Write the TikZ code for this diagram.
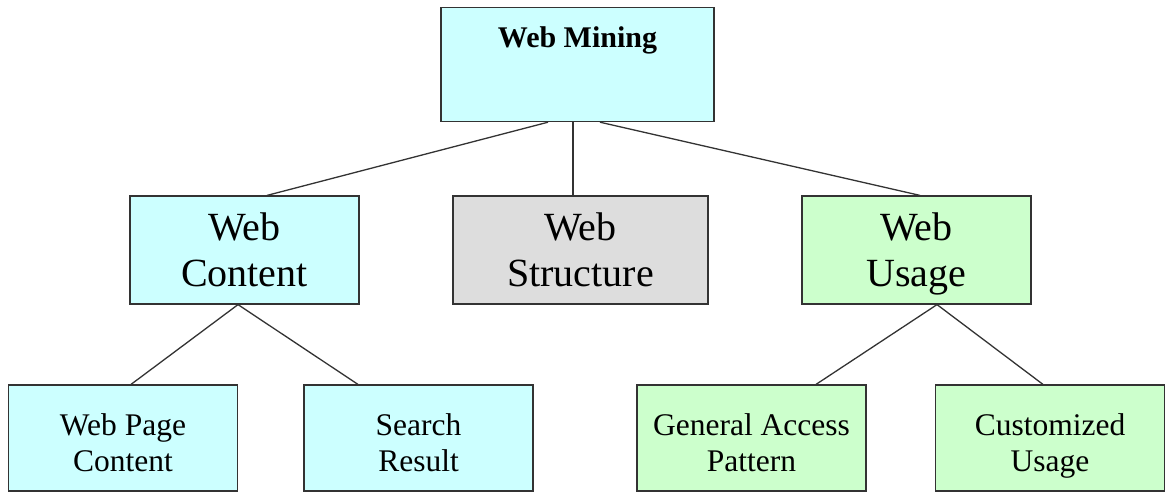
\documentclass[tikz,border=0pt]{standalone}
\usepackage{fontspec}
\setmainfont{Liberation Serif}
\definecolor{cyanfill}{HTML}{CCFFFF}
\definecolor{greyfill}{HTML}{DDDDDD}
\definecolor{greenfill}{HTML}{CCFFCC}
\definecolor{edgegrey}{HTML}{333333}
% fixed line struts so every box sets its lines on the same baselines
\newcommand{\midstrut}{\rule[-10pt]{0pt}{46pt}}
\newcommand{\leafstrut}{\rule[-8pt]{0pt}{46pt}}
\newcommand{\midfont}{\fontsize{40}{46}\selectfont\lineskiplimit-100pt\relax}
\newcommand{\leaffont}{\fontsize{31.5}{36}\selectfont\lineskiplimit-100pt\relax}
\begin{document}
\begin{tikzpicture}[x=1pt,y=-1pt,
  box/.style={draw=edgegrey, line width=1.2pt, rectangle, inner sep=0pt, align=center},
  mid/.style={box, minimum width=229pt, minimum height=108pt, font=\midfont},
  leaf/.style={box, minimum width=229pt, minimum height=106pt, font=\leaffont},
  link/.style={draw=edgegrey, line width=1.3pt}]
\useasboundingbox (0,0) rectangle (1169,493);

% root
\node[box, fill=cyanfill, minimum width=273pt, text height=40pt, text depth=74pt,
      font=\fontsize{30}{36}\selectfont\bfseries, anchor=north] (wm) at (577.5,7) {Web Mining};

% second level
\node[mid, fill=cyanfill] (wc) at (244.5,250) {\midstrut Web\\\midstrut Content};
\node[mid, fill=greyfill, minimum width=255pt] (ws) at (580.5,250) {\midstrut Web\\\midstrut Structure};
\node[mid, fill=greenfill] (wu) at (916.5,250) {\midstrut Web\\\midstrut Usage};

% leaves
\node[leaf, fill=cyanfill] (wp) at (123,438) {\leafstrut Web Page\\\leafstrut Content};
\node[leaf, fill=cyanfill] (sr) at (418.5,438) {\leafstrut Search\\\leafstrut Result};
\node[leaf, fill=greenfill] (ga) at (751.5,438) {\leafstrut General Access\\\leafstrut Pattern};
\node[leaf, fill=greenfill] (cu) at (1050,438) {\leafstrut Customized\\\leafstrut Usage};

% connectors
\draw[link] ([xshift=-29.5pt]wm.south) -- ([xshift=22.5pt]wc.north);
\draw[link] ([xshift=-4.5pt]wm.south) -- ([xshift=-7.5pt]ws.north);
\draw[link] ([xshift=22.5pt]wm.south) -- ([xshift=3.5pt]wu.north);
\draw[link] ([xshift=-6.5pt]wc.south) -- ([xshift=8pt]wp.north);
\draw[link] ([xshift=-6.5pt]wc.south) -- ([xshift=-60.5pt]sr.north);
\draw[link] ([xshift=20.5pt]wu.south) -- ([xshift=64.5pt]ga.north);
\draw[link] ([xshift=20.5pt]wu.south) -- ([xshift=-7pt]cu.north);
\end{tikzpicture}
\end{document}
